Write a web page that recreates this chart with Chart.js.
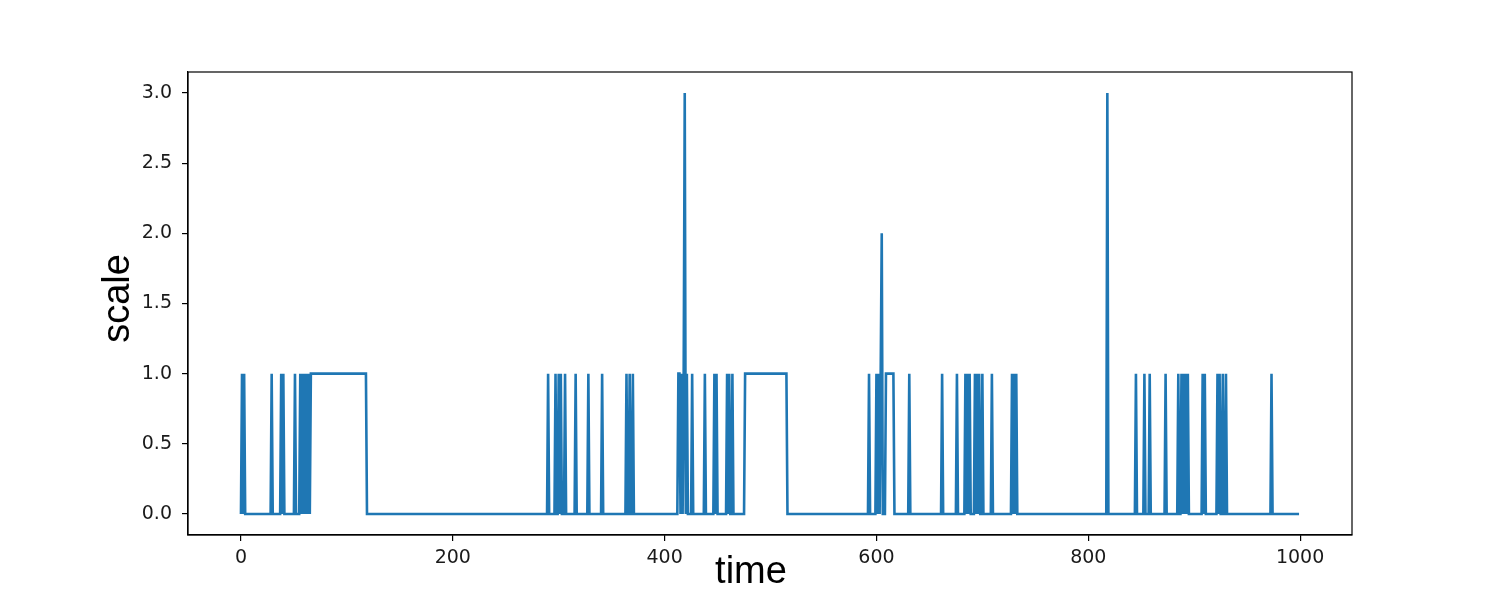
<!DOCTYPE html>
<html>
<head>
<meta charset="utf-8">
<script src="https://cdn.jsdelivr.net/npm/chart.js@4"></script>
<style>
  body { margin: 0; background: #fff; }
  #wrap { width: 1500px; height: 615px; }
</style>
</head>
<body>
<div id="wrap"><canvas id="scaleChart" width="1500" height="615"></canvas></div>
<script>
// ===================== DATA =====================

// number of time steps in the series (0..999)
const timeLength = 1000;

// runs where scale is non-zero: start step, end step, level
const runStart = [1, 3, 29, 38, 40, 51, 56, 58, 60, 62, 64, 66,
    290, 297, 300, 302, 306, 316, 328, 341, 364, 367, 370,
    413, 416, 418, 419, 421, 426, 438, 447, 449, 459, 461, 464, 476,
    593, 600, 602, 604, 605, 609, 631, 662,
    676, 684, 686, 688, 693, 695, 697, 700, 709, 728, 730, 732,
    818, 845, 853, 858, 873, 885, 888, 890, 892, 894, 908, 910, 922, 924, 927, 930, 973];
const runEnd = [1, 3, 29, 38, 40, 51, 56, 58, 60, 62, 64, 118,
    290, 297, 300, 302, 306, 316, 328, 341, 364, 367, 370,
    414, 416, 418, 419, 421, 426, 438, 447, 449, 459, 461, 464, 515,
    593, 600, 602, 604, 605, 616, 631, 662,
    676, 684, 686, 688, 693, 695, 697, 700, 709, 728, 730, 732,
    818, 845, 853, 858, 873, 885, 888, 890, 892, 894, 908, 910, 922, 924, 927, 930, 973];
const runLevel = [1, 1, 1, 1, 1, 1, 1, 1, 1, 1, 1, 1,
    1, 1, 1, 1, 1, 1, 1, 1, 1, 1, 1,
    1, 1, 1, 3, 1, 1, 1, 1, 1, 1, 1, 1, 1,
    1, 1, 1, 1, 2, 1, 1, 1,
    1, 1, 1, 1, 1, 1, 1, 1, 1, 1, 1, 1,
    3, 1, 1, 1, 1, 1, 1, 1, 1, 1, 1, 1, 1, 1, 1, 1, 1];

const xTicks = [0, 200, 400, 600, 800, 1000];
const yTicks = [0, 0.5, 1, 1.5, 2, 2.5, 3];

// expand the runs into one value per time step
const scaleValues = new Array(timeLength).fill(0);
runStart.forEach((s, i) => {
    for (let t = s; t <= runEnd[i]; t++) scaleValues[t] = runLevel[i];
});
const points = scaleValues.map((v, t) => ({ x: t, y: v }));

// ===================== CHART =====================

const tickFont = { family: "'DejaVu Sans', sans-serif", size: 19 };

// box around the plot + axis titles
const frameAndLabels = {
    id: 'frameAndLabels',
    afterDraw(chart) {
        const { ctx, chartArea } = chart;
        ctx.save();
        ctx.strokeStyle = '#000';
        ctx.lineWidth = 1.2;
        ctx.strokeRect(chartArea.left, chartArea.top, chartArea.right - chartArea.left, chartArea.bottom - chartArea.top);

        ctx.fillStyle = '#000';
        ctx.font = "38px 'Liberation Sans', Arial, sans-serif";
        ctx.textAlign = 'center';
        ctx.textBaseline = 'alphabetic';
        ctx.fillText('time', 751, 583);

        ctx.translate(129, (chartArea.top + chartArea.bottom) / 2 - 5);
        ctx.rotate(-Math.PI / 2);
        ctx.fillText('scale', 0, 0);
        ctx.restore();
    }
};

new Chart(document.getElementById('scaleChart'), {
    type: 'line',
    data: {
        datasets: [{
            label: 'scale',
            data: points,
            borderColor: '#1f77b4',
            borderWidth: 2.6,
            pointRadius: 0,
            tension: 0,
            fill: false
        }]
    },
    options: {
        responsive: false,
        animation: false,
        layout: { padding: { top: 72, right: 148, left: 0, bottom: 0 } },
        plugins: {
            legend: { display: false },
            tooltip: { enabled: false }
        },
        scales: {
            x: {
                type: 'linear',
                min: -50,
                max: 1049,
                afterBuildTicks: scale => { scale.ticks = xTicks.map(v => ({ value: v })); },
                afterFit: scale => { scale.height = 80; },
                ticks: {
                    color: '#1a1a1a',
                    font: tickFont,
                    padding: 6,
                    maxRotation: 0,
                    autoSkip: false,
                    callback: value => String(value)
                },
                grid: {
                    drawOnChartArea: false,
                    drawTicks: true,
                    tickLength: 6,
                    color: '#000',
                    lineWidth: 1.2
                },
                border: { display: true, color: '#000', width: 1.2 }
            },
            y: {
                min: -0.15,
                max: 3.15,
                afterBuildTicks: scale => { scale.ticks = yTicks.map(v => ({ value: v })); },
                afterFit: scale => { scale.width = 188; },
                ticks: {
                    color: '#1a1a1a',
                    font: tickFont,
                    padding: 10,
                    autoSkip: false,
                    callback: value => value.toFixed(1)
                },
                grid: {
                    drawOnChartArea: false,
                    drawTicks: true,
                    tickLength: 6,
                    color: '#000',
                    lineWidth: 1.2
                },
                border: { display: true, color: '#000', width: 1.2 }
            }
        }
    },
    plugins: [frameAndLabels]
});
</script>
</body>
</html>
